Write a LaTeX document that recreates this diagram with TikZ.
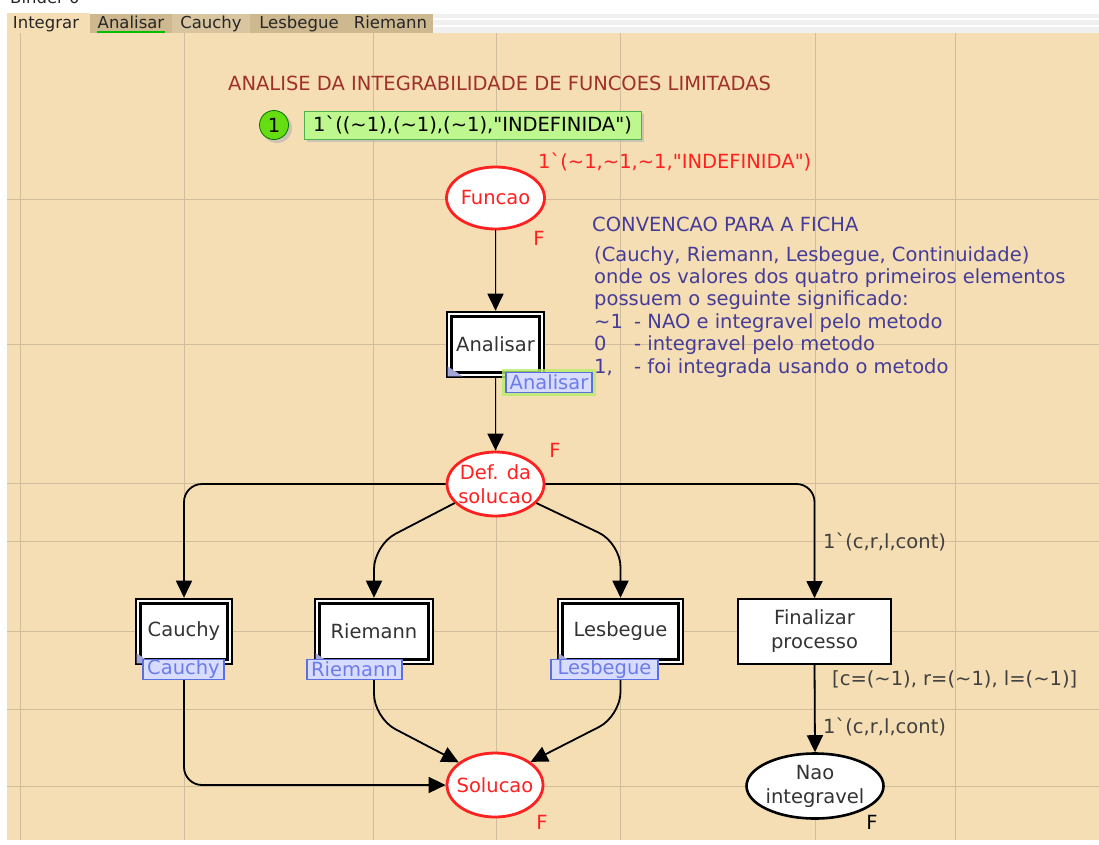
\documentclass[tikz,border=0pt]{standalone}
\usepackage{fontspec}
\setmainfont{DejaVu Sans}
\usetikzlibrary{shapes.geometric,arrows.meta}
\definecolor{wheat}{HTML}{F5DEB3}
\definecolor{gridc}{HTML}{D0BD9B}
\definecolor{tabc}{HTML}{CDB88F}
\definecolor{tabl}{HTML}{D9C6A0}
\definecolor{titlec}{HTML}{A0302C}
\definecolor{placered}{HTML}{FF2020}
\definecolor{convblue}{HTML}{443C98}
\definecolor{lblfill}{HTML}{D8DCFF}
\definecolor{lbldraw}{HTML}{5B6FE0}
\definecolor{lbltext}{HTML}{6C7CEA}
\definecolor{inscgray}{HTML}{404040}
\definecolor{tokgreen}{HTML}{66DD11}
\definecolor{tokbox}{HTML}{BDF78E}
\definecolor{triang}{HTML}{A4A6DA}
\definecolor{glowc}{HTML}{B6EE6A}
\newcommand{\mytilde}{\textasciitilde}
\newcommand{\mygrave}{\textasciigrave}
\newcommand{\myquote}{\textquotedbl}
\tikzset{
 fnt/.style={font=\fontsize{19.5}{24}\selectfont},
 place/.style={ellipse, draw=placered, line width=2.8pt, fill=white, inner sep=0pt},
 nplace/.style={ellipse, draw=black, line width=2.6pt, fill=white, inner sep=0pt},
 ptext/.style={fnt, text=placered, align=center, inner sep=0pt},
 trans/.style={rectangle, draw=black, line width=2.6pt, fill=white, minimum height=65pt, inner sep=0pt, fnt, text=black!80},
 lblbox/.style={rectangle, draw=lbldraw, line width=1.3pt, fill=lblfill, text=lbltext, inner sep=0pt, minimum height=20pt, fnt},
 arc/.style={line width=1.8pt, -{Triangle[length=17pt,width=16pt]}},
 insc/.style={fnt, text=inscgray, inner sep=0pt, anchor=base west},
 convtxt/.style={fnt, text=convblue, inner sep=0pt, anchor=base west},
 flbl/.style={fnt, inner sep=0pt, anchor=base},
 tabtxt/.style={font=\fontsize{16.5}{20}\selectfont, inner sep=0pt, anchor=base, text=black!85},
 gridline/.style={draw=gridc, line width=1pt},
 corner/.style={fill=triang},
}
\begin{document}
\begin{tikzpicture}[x=1pt,y=-1pt]
\useasboundingbox (0,0) rectangle (1099,844);
\clip (0,0) rectangle (1099,844);
\fill[white] (0,0) rectangle (1099,844);
\node[tabtxt, anchor=base west] (binder) at (10,3) {Binder 0};
% tab strip
\fill[black!6] (433,14) rectangle (1099,33);
\draw[white, line width=1.5pt] (433,19) -- (1099,19);
\draw[white, line width=1.5pt] (433,26) -- (1099,26);
\fill[wheat] (7,13) rectangle (90,33);
\fill[tabc] (90,14) rectangle (172,33);
\fill[tabl] (172,14) rectangle (250,33);
\fill[tabc] (250,14) rectangle (348,33);
\fill[tabc] (348,14) rectangle (433,33);
\node[tabtxt] (tInt) at (46,28) {Integrar};
\node[tabtxt] (tAna) at (131,28) {Analisar};
\draw[green!75!black, line width=2pt] (97,31.5) -- (165,31.5);
\node[tabtxt] (tCau) at (211,28) {Cauchy};
\node[tabtxt] (tLes) at (299,28) {Lesbegue};
\node[tabtxt] (tRie) at (390.5,28) {Riemann};
% canvas
\fill[wheat] (7,33) rectangle (1099,840);
\foreach \gx in {20,184,373,496,620,815,955} {\draw[gridline] (\gx,33) -- (\gx,840);}
\foreach \gy in {199,344,483,541,631,709,786} {\draw[gridline] (7,\gy) -- (1099,\gy);}
% title and initial marking
\node[fnt, text=titlec, anchor=base west, inner sep=0pt] (title) at (228,90) {ANALISE DA INTEGRABILIDADE DE FUNCOES LIMITADAS};
\fill[black!30, opacity=0.6] (277,128) circle (15);
\node[circle, fill=tokgreen, draw=green!45!black, line width=0.8pt, minimum size=29pt, inner sep=0pt, fnt] (tok) at (274,125) {1};
\fill[black!30, opacity=0.6] (307,114) rectangle (644,142);
\node[rectangle, fill=tokbox, draw=green!40!gray, line width=0.8pt, minimum width=337pt, minimum height=28pt, inner sep=0pt, fnt] (marking) at (472.5,125) {1\mygrave((\mytilde1),(\mytilde1),(\mytilde1),\myquote INDEFINIDA\myquote)};
\node[fnt, text=placered, anchor=base west, inner sep=0pt] (mark0) at (538,168) {1\mygrave(\mytilde1,\mytilde1,\mytilde1,\myquote INDEFINIDA\myquote)};
% convention text
\node[convtxt] (c0) at (592,231) {CONVENCAO PARA A FICHA};
\node[convtxt] (c1) at (594,261) {(Cauchy, Riemann, Lesbegue, Continuidade)};
\node[convtxt] (c2) at (594,283.4) {onde os valores dos quatro primeiros elementos};
\node[convtxt] (c3) at (594,305.8) {possuem o seguinte significado:};
\node[convtxt] (c4) at (594,328.2) {\makebox[40pt][l]{\mytilde1}- NAO e integravel pelo metodo};
\node[convtxt] (c5) at (594,350.6) {\makebox[40pt][l]{0}- integravel pelo metodo};
\node[convtxt] (c6) at (594,373) {\makebox[40pt][l]{1,}- foi integrada usando o metodo};
% places
\node[place, minimum width=98pt, minimum height=62pt] (fun) at (495.5,198) {};
\node[ptext] (funt) at (fun) {Funcao};
\node[flbl, text=placered] (funF) at (539,245) {F};
\node[place, minimum width=97pt, minimum height=64pt] (def) at (495.5,484) {};
\node[ptext] (deft) at (def) {Def. da\\solucao};
\node[flbl, text=placered] (defF) at (555,457) {F};
\node[place, minimum width=96pt, minimum height=64pt] (sol) at (495,785) {};
\node[ptext] (solt) at (sol) {Solucao};
\node[flbl, text=placered] (solF) at (542,829) {F};
\node[nplace, minimum width=137pt, minimum height=65pt] (nao) at (815,786) {};
\node[fnt, align=center, inner sep=0pt, text=black!80] (naot) at (nao) {Nao\\integravel};
\node[flbl] (naoF) at (872,829) {F};
% transitions
\node[trans, minimum width=97pt] (ana) at (495.5,344.5) {Analisar};
\node[trans, minimum width=96pt] (cau) at (184,631.5) {Cauchy};
\node[trans, minimum width=118pt] (rie) at (374,631.5) {Riemann};
\node[trans, minimum width=125pt] (les) at (620.5,631.5) {Lesbegue};
\foreach \t in {ana,cau,rie,les} {
  \draw[line width=2.6pt] ([shift={(6,6)}]\t.north west) rectangle ([shift={(-6,-6)}]\t.south east);
  \fill[corner] ([shift={(2,-12)}]\t.south west) -- ([shift={(2,-2)}]\t.south west) -- ([shift={(17,-2)}]\t.south west) -- cycle;
}
\node[rectangle, draw=black, line width=2pt, fill=white, minimum width=153pt, minimum height=65pt, inner sep=0pt, fnt, align=center, text=black!80] (fin) at (814.5,631.5) {Finalizar\\processo};
% arcs
\draw[arc] (fun.south) -- (ana.north);
\draw[arc] (ana.south) -- (def.north);
\draw[arc, rounded corners=18pt] (def.west) -| (cau.north);
\draw[arc, rounded corners=24pt] (def.205) -- (374,545) -- (rie.north);
\draw[arc, rounded corners=24pt] (def.335) -- (620.5,543) -- (les.north);
\draw[arc, rounded corners=18pt] (def.east) -| (fin.north);
\draw[arc] (fin.south) -- (nao.north);
\draw[arc, rounded corners=18pt] (cau.south) |- (sol.west);
\draw[arc, rounded corners=24pt] (rie.south) -- (374,718) -- (sol.148);
\draw[arc, rounded corners=24pt] (les.south) -- (620.5,716) -- (sol.33);
% substitution labels
\fill[glowc, opacity=0.8] (502,369) rectangle (596,396);
\node[lblbox, minimum width=86pt] (analbl) at (549,382.5) {Analisar};
\node[lblbox, minimum width=81pt] (caulbl) at (183.5,669.5) {Cauchy};
\node[lblbox, minimum width=95pt] (rielbl) at (354.5,669.5) {Riemann};
\node[lblbox, minimum width=107pt] (leslbl) at (604.5,669.5) {Lesbegue};
% inscriptions
\node[insc] (a1) at (823,548) {1\mygrave(c,r,l,cont)};
\node[insc] (guard) at (832,685) {[c=(\mytilde1), r=(\mytilde1), l=(\mytilde1)]};
\node[insc] (a2) at (823,733) {1\mygrave(c,r,l,cont)};
\end{tikzpicture}
\end{document}
